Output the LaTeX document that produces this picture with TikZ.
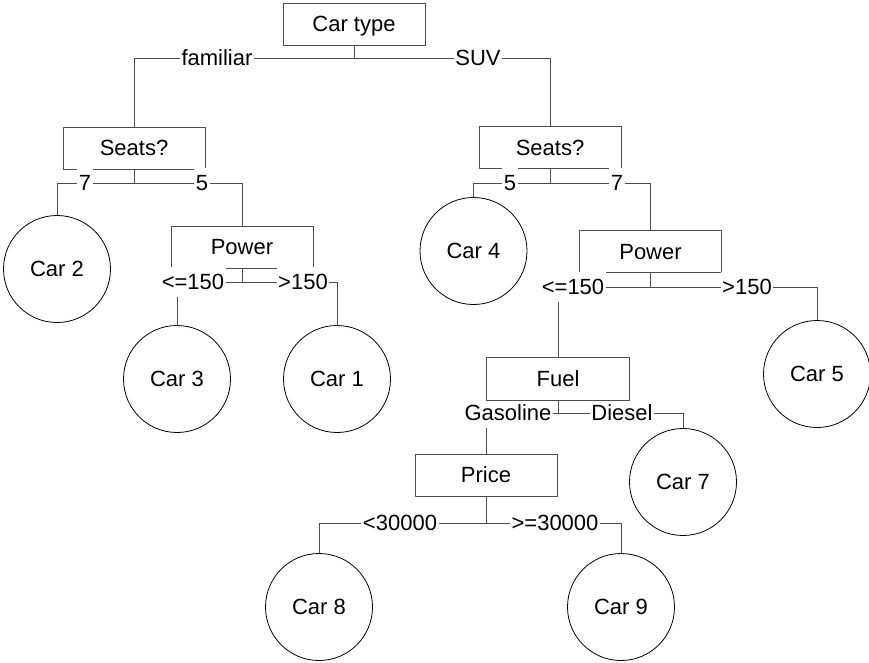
\documentclass[tikz,border=0pt]{standalone}
\usepackage{fontspec}
\setmainfont{Liberation Sans}
\begin{document}
\begin{tikzpicture}[x=1pt,y=-1pt,
  every node/.style={font=\fontsize{22}{26}\selectfont, text height=15.75pt, text depth=0pt},
  testbox/.style={draw=black!70, line width=1pt, minimum width=142pt, minimum height=42pt, inner sep=0pt},
  leaf/.style={circle, draw=black, line width=0.8pt, minimum size=107pt, inner sep=0pt},
  conn/.style={draw=black!70, line width=1pt},
  branch/.style={fill=white, inner xsep=1.5pt, inner ysep=0pt, minimum height=30pt}]
\useasboundingbox (0,0) rectangle (869,662);

% decision boxes
\node[testbox] (ct)     at (354,24)    {Car type};
\node[testbox] (seatsL) at (134,148)   {Seats?};
\node[testbox] (seatsR) at (550,147.5) {Seats?};
\node[testbox] (powerL) at (242,247)   {Power};
\node[testbox] (powerR) at (650.5,251.5) {Power};
\node[testbox, draw=none] (fuel) at (558,378.5) {Fuel};
\node[testbox] (price)  at (486,475)   {Price};

% leaves
\node[leaf] (car2) at (57,269)  {Car 2};
\node[leaf] (car3) at (177,379) {Car 3};
\node[leaf] (car1) at (337,379) {Car 1};
\node[leaf] (car4) at (473.5,251) {Car 4};
\node[leaf] (car5) at (817,374) {Car 5};
\node[leaf] (car7) at (683,482) {Car 7};
\node[leaf] (car8) at (319,607) {Car 8};
\node[leaf] (car9) at (621,607) {Car 9};

% elbow connectors
\draw[conn] (ct.south) -- ++(0,13) -| (seatsL.north);
\draw[conn] (ct.south) -- ++(0,13) -| (seatsR.north);
\draw[conn] (seatsL.south) -- ++(0,14) -| (car2.north);
\draw[conn] (seatsL.south) -- ++(0,14) -| (powerL.north);
\draw[conn] (seatsR.south) -- ++(0,14.5) -| (car4.north);
\draw[conn] (seatsR.south) -- ++(0,14.5) -| (powerR.north);
\draw[conn] (powerL.south) -- ++(0,14) -| (car3.north);
\draw[conn] (powerL.south) -- ++(0,14) -| (car1.north);
\draw[conn] (powerR.south) -- ++(0,14.5) -| (fuel.north);
\draw[conn] (powerR.south) -- ++(0,14.5) -| (car5.north);
\draw[conn] (fuel.south) -- ++(0,13.5) -| (price.north);
\draw[conn] (fuel.south) -- ++(0,13.5) -| (car7.north);
\draw[conn] (price.south) -- ++(0,27) -| (car8.north);
\draw[conn] (price.south) -- ++(0,27) -| (car9.north);

% branch labels
\node[branch] (bFam)  at (217,58)  {familiar};
\node[branch] (bSuv)  at (478,58)  {SUV};
\node[branch] (bL7)   at (85,183)  {7};
\node[branch] (bL5)   at (202,183) {5};
\node[branch] (bR5)   at (510,183) {5};
\node[branch] (bR7)   at (617,183) {7};
\node[branch] (bLle)  at (193,282) {<=150};
\node[branch] (bLgt)  at (303,282) {>150};
\node[branch] (bRle)  at (573,287) {<=150};
\node[branch] (bRgt)  at (747,287) {>150};
\node[branch] (bGas)  at (508,413) {Gasoline};
\node[branch] (bDie)  at (622,413) {Diesel};
\node[branch] (bLow)  at (400,523) {<30000};
\node[branch] (bHigh) at (555,523) {>=30000};

% the Fuel box outline stays above its branch labels
\draw[conn] (fuel.south west) rectangle (fuel.north east);
\end{tikzpicture}
\end{document}
